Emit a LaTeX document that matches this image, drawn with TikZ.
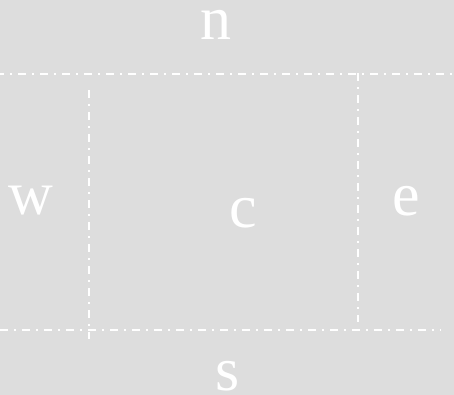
\documentclass[tikz,border=0pt]{standalone}
\usepackage{fontspec}
\setmainfont{Liberation Serif}
\begin{document}
\begin{tikzpicture}[x=1pt,y=1pt,
  lbl/.style={text=white,inner sep=0pt,font=\fontsize{62}{62}\selectfont},
  divider/.style={draw=white,line width=1.8pt,dash pattern=on 8pt off 6pt on 2pt off 6pt}]
\fill[fill={rgb,255:red,221;green,221;blue,221}] (0,0) rectangle (454,395);
\useasboundingbox (0,0) rectangle (454,395);
\coordinate (tl) at (0,321);
\coordinate (tr) at (454,321);
\coordinate (bl) at (0,65);
\coordinate (br) at (441,65);
\coordinate (lt) at (89,305);
\coordinate (lb) at (89,56);
\coordinate (rt) at (358,322);
\coordinate (rb) at (358,73);
\draw[divider,dash phase=4pt] (tl) -- (tr);
\draw[divider] (bl) -- (br);
\draw[divider] (lt) -- (lb);
\draw[divider] (rt) -- (rb);
\node[lbl] (n) at (216,370) {n};
\node[lbl] (w) at (31,194) {w};
\node[lbl] (c) at (243,182) {c};
\node[lbl] (e) at (406,194) {e};
\node[lbl] (s) at (228,19) {s};
\end{tikzpicture}
\end{document}
